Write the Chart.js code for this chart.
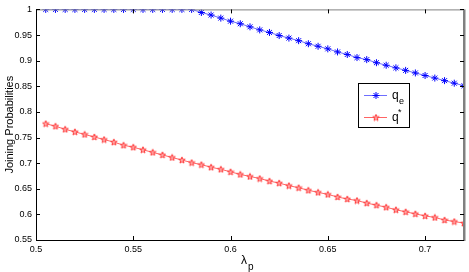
<!DOCTYPE html>
<html>
<head>
<meta charset="utf-8">
<script src="https://cdn.jsdelivr.net/npm/chart.js@4/dist/chart.umd.min.js"></script>
<style>
  body { margin: 0; background: #fff; }
  #wrap { width: 469px; height: 272px; }
</style>
</head>
<body>
<div id="wrap"><canvas id="chart" width="469" height="272"></canvas></div>
<script>
// lambda_p values along the x axis
const lambdaP = [0.505, 0.51, 0.515, 0.52, 0.525, 0.53, 0.535, 0.54, 0.545, 0.55,
    0.555, 0.56, 0.565, 0.57, 0.575, 0.58, 0.585, 0.59, 0.595, 0.6,
    0.605, 0.61, 0.615, 0.62, 0.625, 0.63, 0.635, 0.64, 0.645, 0.65,
    0.655, 0.66, 0.665, 0.67, 0.675, 0.68, 0.685, 0.69, 0.695, 0.7,
    0.705, 0.71, 0.715, 0.72]

const qe = [1, 1, 1, 1, 1, 1, 1, 1, 1, 1,
    1, 1, 1, 1, 1, 1, 0.994, 0.989, 0.983, 0.977,
    0.972, 0.966, 0.960, 0.955, 0.949, 0.944, 0.939, 0.933, 0.928, 0.923,
    0.917, 0.912, 0.906, 0.902, 0.896, 0.891, 0.886, 0.881, 0.876, 0.871,
    0.866, 0.861, 0.856, 0.851]

const qStar = [0.777, 0.772, 0.766, 0.761, 0.756, 0.751, 0.746, 0.741, 0.735, 0.731,
    0.726, 0.721, 0.716, 0.711, 0.706, 0.701, 0.697, 0.692, 0.688, 0.683,
    0.678, 0.674, 0.670, 0.665, 0.661, 0.656, 0.652, 0.647, 0.643, 0.639,
    0.634, 0.630, 0.627, 0.622, 0.618, 0.614, 0.609, 0.605, 0.601, 0.597,
    0.594, 0.589, 0.586, 0.583]

const xTicks = [0.5, 0.55, 0.6, 0.65, 0.7]
const yTicks = [0.55, 0.6, 0.65, 0.7, 0.75, 0.8, 0.85, 0.9, 0.95, 1]

const FONT = 'Liberation Sans, Arial, Helvetica, sans-serif'

// pentagram marker like matlab 'p'
function pentagram(size) {
    const c = document.createElement('canvas')
    c.width = size
    c.height = size
    const g = c.getContext('2d')
    const cx = size / 2, cy = size / 2 + 0.3
    const ro = size / 2 - 0.6, ri = ro * 0.42
    g.beginPath()
    for (let i = 0; i < 10; i++) {
        const r = i % 2 ? ri : ro
        const a = -Math.PI / 2 + i * Math.PI / 5
        const px = cx + r * Math.cos(a), py = cy + r * Math.sin(a)
        i ? g.lineTo(px, py) : g.moveTo(px, py)
    }
    g.closePath()
    g.fillStyle = 'rgba(255,170,170,0.8)'
    g.fill()
    g.strokeStyle = 'rgb(255,60,60)'
    g.lineWidth = 1
    g.stroke()
    return c
}
const starMarker = pentagram(8)

// matlab-ish box, inward ticks, x label and legend
const matlabFrame = {
    id: 'matlabFrame',
    afterDraw(chart) {
        const { ctx, chartArea: a, scales: { x, y } } = chart
        ctx.save()
        ctx.lineWidth = 1
        ctx.strokeStyle = '#000'
        ctx.beginPath()
        ctx.moveTo(a.left + 0.5, a.top)
        ctx.lineTo(a.left + 0.5, a.bottom + 0.5)
        ctx.lineTo(a.right, a.bottom + 0.5)
        ctx.stroke()
        ctx.strokeStyle = '#808080'
        ctx.beginPath()
        ctx.moveTo(a.left, a.top + 0.5)
        ctx.lineTo(a.right - 0.5, a.top + 0.5)
        ctx.lineTo(a.right - 0.5, a.bottom)
        ctx.stroke()
        ctx.lineWidth = 2
        ctx.beginPath()
        ctx.moveTo(a.right + 0.5, a.top)
        ctx.lineTo(a.right + 0.5, a.bottom + 1)
        ctx.stroke()

        ctx.lineWidth = 1
        ctx.strokeStyle = '#000'
        ctx.beginPath()
        xTicks.forEach(v => {
            const px = Math.round(x.getPixelForValue(v)) + 0.5
            ctx.moveTo(px, a.bottom)
            ctx.lineTo(px, a.bottom - 4)
            ctx.moveTo(px, a.top)
            ctx.lineTo(px, a.top + 4)
        })
        yTicks.forEach(v => {
            const py = Math.round(y.getPixelForValue(v)) + 0.5
            ctx.moveTo(a.left, py)
            ctx.lineTo(a.left + 4, py)
            ctx.moveTo(a.right, py)
            ctx.lineTo(a.right - 4, py)
        })
        ctx.stroke()

        // x axis label lambda_p
        ctx.fillStyle = '#000'
        ctx.textBaseline = 'alphabetic'
        ctx.textAlign = 'left'
        ctx.font = '12px ' + FONT
        ctx.fillText('λ', 241, 264)
        ctx.font = '10px ' + FONT
        ctx.fillText('p', 248, 270)

        // legend
        const lx = 358.5, ly = 83.5, lw = 51, lh = 44
        ctx.fillStyle = '#fff'
        ctx.fillRect(lx, ly, lw, lh)
        ctx.strokeStyle = '#000'
        ctx.strokeRect(lx, ly, lw, lh)
        const rows = [
            { y: 95.5, color: 'rgb(110,110,255)', ds: 0, sub: 'e' },
            { y: 117.5, color: 'rgb(255,100,100)', ds: 1, sup: '*' }
        ]
        rows.forEach(r => {
            ctx.strokeStyle = r.color
            ctx.lineWidth = 1
            ctx.beginPath()
            ctx.moveTo(364, r.y)
            ctx.lineTo(387, r.y)
            ctx.stroke()
            if (r.ds === 0) {
                ctx.strokeStyle = 'rgb(0,0,255)'
                ctx.beginPath()
                ctx.moveTo(376, r.y - 3.5); ctx.lineTo(376, r.y + 3.5)
                ctx.moveTo(372.5, r.y); ctx.lineTo(379.5, r.y)
                ctx.moveTo(373.5, r.y - 2.5); ctx.lineTo(378.5, r.y + 2.5)
                ctx.moveTo(378.5, r.y - 2.5); ctx.lineTo(373.5, r.y + 2.5)
                ctx.stroke()
            } else {
                ctx.drawImage(starMarker, 376 - 4, r.y - 4)
            }
            ctx.fillStyle = '#000'
            ctx.font = '12px ' + FONT
            ctx.fillText('q', 392, r.y + 3)
            ctx.font = '9px ' + FONT
            if (r.sub) ctx.fillText(r.sub, 399, r.y + 8)
            if (r.sup) ctx.fillText(r.sup, 398, r.y - 3)
        })
        ctx.restore()
    }
}

new Chart(document.getElementById('chart'), {
    type: 'line',
    data: {
        datasets: [
            {
                label: 'q_e',
                data: lambdaP.map((v, i) => ({ x: v, y: qe[i] })),
                borderColor: 'rgb(110,110,255)',
                borderWidth: 1,
                pointStyle: 'star',
                pointRadius: 3.5,
                pointBorderColor: 'rgb(0,0,255)',
                pointBackgroundColor: 'rgb(0,0,255)',
                pointBorderWidth: 1,
                tension: 0
            },
            {
                label: 'q*',
                data: lambdaP.map((v, i) => ({ x: v, y: qStar[i] })),
                borderColor: 'rgb(255,100,100)',
                borderWidth: 1,
                pointStyle: starMarker,
                pointRadius: 4,
                tension: 0
            }
        ]
    },
    options: {
        responsive: false,
        animation: false,
        devicePixelRatio: 1,
        layout: { padding: { top: 3, right: 3, left: 0, bottom: 0 } },
        plugins: {
            legend: { display: false },
            tooltip: { enabled: false }
        },
        scales: {
            x: {
                type: 'linear',
                min: 0.5,
                max: 0.72,
                afterBuildTicks: s => { s.ticks = xTicks.map(v => ({ value: v })) },
                afterFit: s => { s.height = 32 },
                grid: { display: false, drawTicks: false },
                border: { display: false },
                ticks: {
                    padding: 4,
                    color: '#000',
                    font: { family: FONT, size: 9 },
                    maxRotation: 0,
                    callback: v => String(+v.toFixed(2))
                }
            },
            y: {
                min: 0.55,
                max: 1,
                afterBuildTicks: s => { s.ticks = yTicks.map(v => ({ value: v })) },
                afterFit: s => { s.width = 36 },
                grid: { display: false, drawTicks: false },
                border: { display: false },
                ticks: {
                    padding: 4,
                    color: '#000',
                    font: { family: FONT, size: 9 },
                    callback: v => String(+v.toFixed(2))
                },
                title: {
                    display: true,
                    text: 'Joining Probabilities',
                    color: '#000',
                    font: { family: FONT, size: 11 },
                    padding: { top: 3, bottom: 0 }
                }
            }
        }
    },
    plugins: [matlabFrame]
})
</script>
</body>
</html>
